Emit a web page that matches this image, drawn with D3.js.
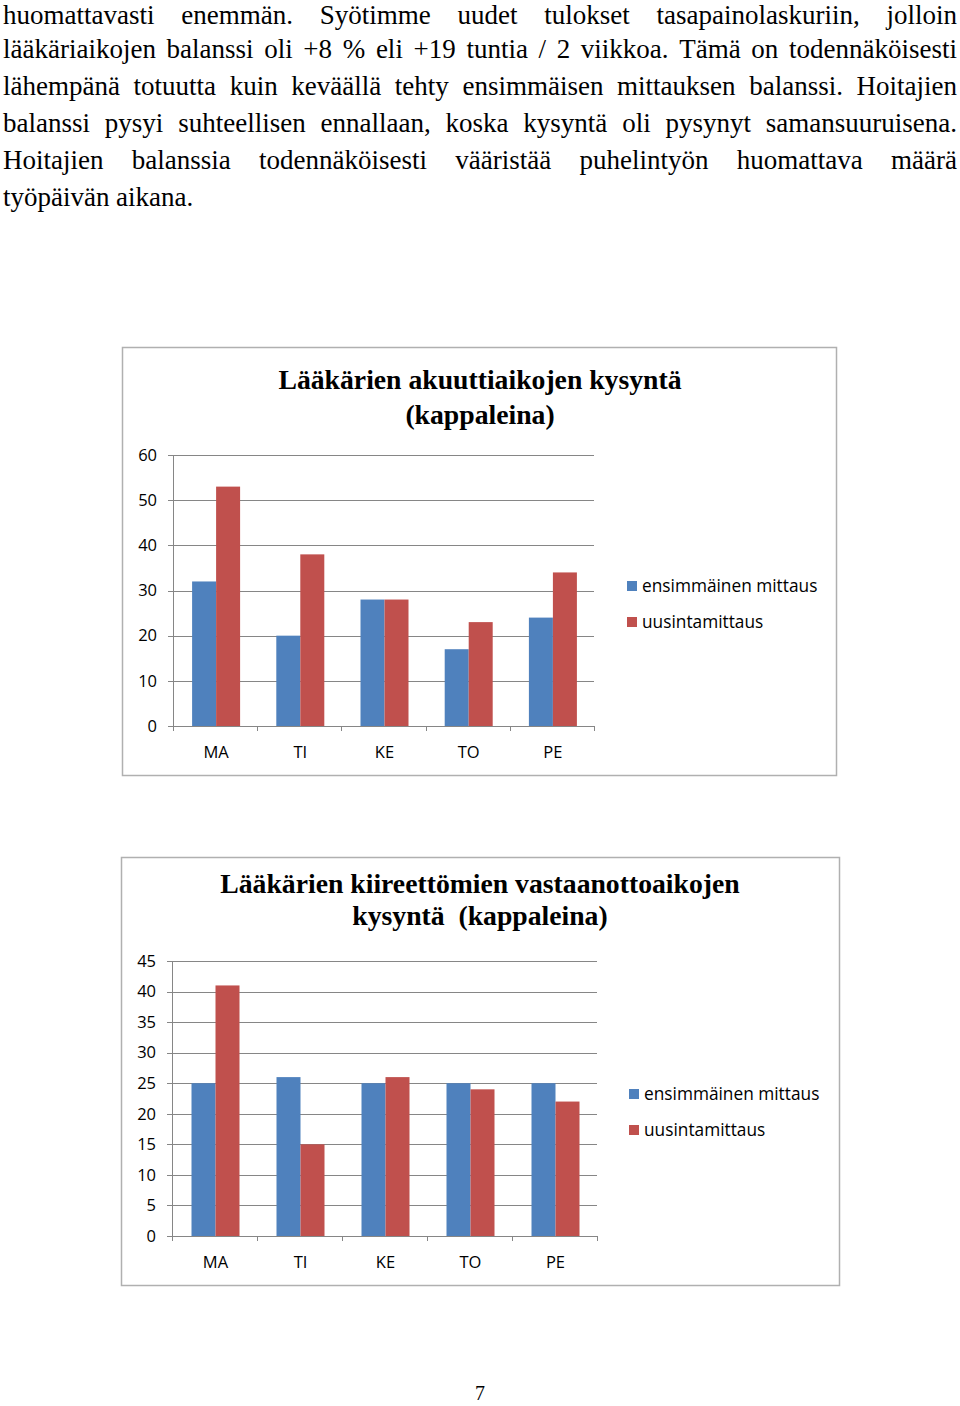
<!DOCTYPE html>
<html><head><meta charset="utf-8">
<script src="https://cdn.jsdelivr.net/npm/d3@7"></script>
<style>body{margin:0;background:#fff}svg{display:block}</style>
</head><body>
<script>
const bodyLines = [
 "huomattavasti enemmän. Syötimme uudet tulokset tasapainolaskuriin, jolloin",
 "lääkäriaikojen balanssi oli +8 % eli +19 tuntia / 2 viikkoa. Tämä on todennäköisesti",
 "lähempänä totuutta kuin keväällä tehty ensimmäisen mittauksen balanssi. Hoitajien",
 "balanssi pysyi suhteellisen ennallaan, koska kysyntä oli pysynyt samansuuruisena.",
 "Hoitajien balanssia todennäköisesti vääristää puhelintyön huomattava määrä",
 "työpäivän aikana."
];
const days = ["MA","TI","KE","TO","PE"];
const seriesNames = ["ensimmäinen mittaus","uusintamittaus"];
const colors = ["#4F81BD","#C0504D"];
const acuteFirst = [32,20,28,17,24];
const acuteRepeat = [53,38,28,23,34];
const acuteTicks = [0,10,20,30,40,50,60];
const routineFirst = [25,26,25,25,25];
const routineRepeat = [41,15,26,24,22];
const routineTicks = [0,5,10,15,20,25,30,35,40,45];

const W=960,H=1406;
const svg=d3.select("body").append("svg").attr("width",W).attr("height",H);

const bodyFont="'Liberation Serif','Times New Roman',serif";
const sansFont="'Open Sans','Noto Sans',sans-serif";
bodyLines.forEach((line,i)=>{
  const y= i===0 ? 24 : 21+i*36.9;
  const words=line.split(" ");
  const last=i===bodyLines.length-1;
  const g=svg.append("g");
  const nodes=words.map(w=>g.append("text").attr("y",y).attr("font-family",bodyFont).attr("font-size",27).attr("fill","#000").text(w));
  const widths=nodes.map(n=>n.node().getComputedTextLength());
  const total=d3.sum(widths);
  const x0=3,x1=957;
  const gap= last? 6.5 : (x1-x0-total)/(words.length-1);
  let x=x0;
  nodes.forEach((n,j)=>{n.attr("x",x);x+=widths[j]+gap;});
});

function chart(o){
  const g=svg.append("g");
  g.append("rect").attr("x",o.box[0]+0.5).attr("y",o.box[1]+0.5).attr("width",o.box[2]).attr("height",o.box[3])
   .attr("fill","#fff").attr("stroke","#b0b0b0").attr("stroke-width",1.5);
  o.title.forEach((t,i)=>g.append("text").attr("x",480).attr("y",o.titleY[i]).attr("text-anchor","middle")
    .style("white-space","pre").attr("font-family",bodyFont).attr("font-weight","bold").attr("font-size",27.7).text(t));
  const x=d3.scaleBand().domain(days).range([o.x0,o.x1]).paddingInner(0).paddingOuter(0);
  const y=d3.scaleLinear().domain([0,o.max]).range([o.y0,o.y1]);
  const bw=24;
  g.selectAll("line.grid").data(o.ticks).join("line").attr("x1",o.x0-5).attr("x2",o.x1)
    .attr("y1",d=>Math.round(y(d))+0.5).attr("y2",d=>Math.round(y(d))+0.5).attr("stroke","#868686").attr("stroke-width",1);
  g.append("line").attr("x1",o.x0+0.5).attr("x2",o.x0+0.5).attr("y1",o.y1).attr("y2",o.y0).attr("stroke","#868686");
  const bounds=days.map(d=>x(d)).concat([o.x1]);
  g.selectAll("line.xt").data(bounds).join("line").attr("x1",d=>Math.round(d)+0.5).attr("x2",d=>Math.round(d)+0.5)
    .attr("y1",o.y0).attr("y2",o.y0+5).attr("stroke","#868686");
  g.selectAll("text.yl").data(o.ticks).join("text").attr("x",o.x0-16).attr("y",d=>y(d)).attr("dy","0.35em")
    .attr("text-anchor","end").attr("font-family",sansFont).attr("font-size",16.5).text(d=>d);
  g.selectAll("text.xl").data(days).join("text").attr("x",d=>x(d)+x.bandwidth()/2+1).attr("y",o.y0+26).attr("dy","0.35em")
    .attr("text-anchor","middle").attr("font-family",sansFont).attr("font-size",16.5).text(d=>d);
  [o.a,o.b].forEach((vals,si)=>{
    g.selectAll(null).data(vals).join("rect")
      .attr("x",(d,i)=>x(days[i])+x.bandwidth()/2+1-bw+si*bw)
      .attr("y",d=>y(d)).attr("width",bw).attr("height",d=>o.y0-y(d)).attr("fill",colors[si]);
  });
  seriesNames.forEach((n,i)=>{
    const ly=o.legY+i*36;
    g.append("rect").attr("x",o.legX).attr("y",ly-5).attr("width",10).attr("height",10).attr("fill",colors[i]);
    g.append("text").attr("x",o.legX+15).attr("y",ly).attr("dy","0.35em").attr("font-family",sansFont)
      .attr("font-size",17.3).text(n);
  });
}

chart({box:[122,347,714,428],title:["Lääkärien akuuttiaikojen kysyntä","(kappaleina)"],titleY:[389,424],
  x0:173,x1:594,y0:726,y1:455,max:60,ticks:acuteTicks,a:acuteFirst,b:acuteRepeat,legX:627,legY:586});
chart({box:[121,857,718,428],title:["Lääkärien kiireettömien vastaanottoaikojen","kysyntä  (kappaleina)"],titleY:[893,925],
  x0:172,x1:597,y0:1236,y1:961,max:45,ticks:routineTicks,a:routineFirst,b:routineRepeat,legX:629,legY:1094});

svg.append("text").attr("x",480).attr("y",1400).attr("text-anchor","middle").attr("font-family",bodyFont).attr("font-size",20).text("7");
</script>
</body></html>
